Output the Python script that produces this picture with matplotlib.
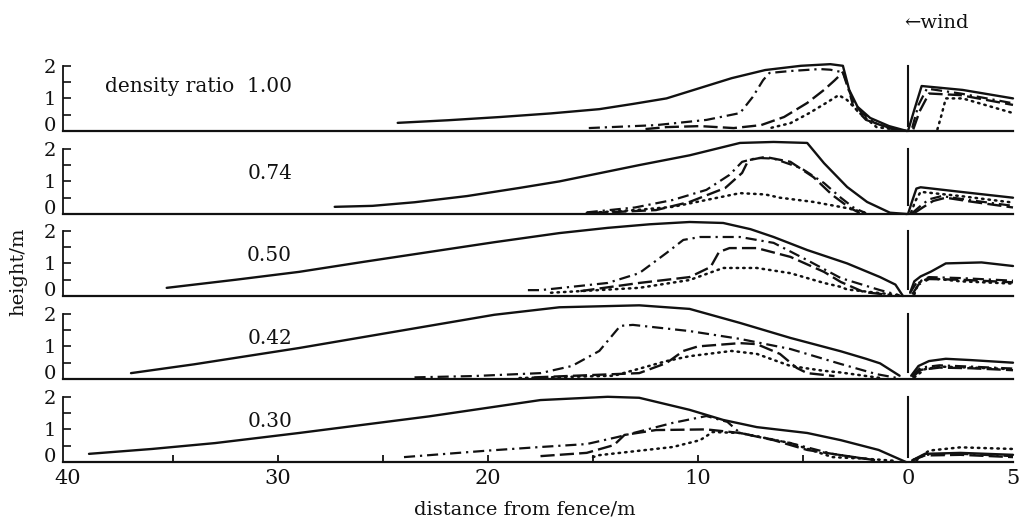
import matplotlib
matplotlib.use("Agg")
import matplotlib.pyplot as plt
from matplotlib.ticker import FixedLocator, FixedFormatter
import matplotlib.transforms as mtransforms

plt.rcParams['font.family'] = ['DejaVu Serif', 'DejaVu Sans']

# ---------------- data (metres) ----------------
density_ratios = ["1.00", "0.74", "0.50", "0.42", "0.30"]

# panel 1 : density ratio 1.00
r100_solid_x = [24.3, 21.9, 19.4, 17.0, 14.7, 13.1, 11.5, 10.0, 8.4, 6.8, 5.1, 3.7, 3.1, 2.8, 2.4, 1.8, 0.9, 0.05]
r100_solid_y = [0.25, 0.33, 0.43, 0.54, 0.67, 0.83, 1.0, 1.3, 1.62, 1.87, 2.0, 2.05, 2.0, 1.26, 0.74, 0.4, 0.15, 0.0]
r100_dashdot_x = [15.2, 12.0, 9.6, 8.0, 7.4, 6.9, 6.6, 5.6, 4.2, 3.7, 3.1, 2.9, 2.6, 2.0, 0.9, 0.05]
r100_dashdot_y = [0.09, 0.18, 0.34, 0.55, 1.04, 1.56, 1.78, 1.84, 1.9, 1.88, 1.8, 1.45, 0.74, 0.34, 0.1, 0.0]
r100_dashed_x = [12.5, 11.5, 9.9, 8.3, 7.0, 5.9, 4.8, 4.0, 3.5, 3.1, 2.9, 2.6, 2.2, 1.6, 0.8, 0.05]
r100_dashed_y = [0.06, 0.12, 0.15, 0.09, 0.18, 0.43, 0.86, 1.26, 1.55, 1.8, 1.4, 0.9, 0.55, 0.25, 0.07, 0.0]
r100_dotted_x = [6.5, 5.6, 4.7, 3.9, 3.3, 2.9, 2.3, 1.5, 0.05]
r100_dotted_y = [0.1, 0.24, 0.55, 0.86, 1.1, 0.95, 0.55, 0.12, 0.0]
r100_up_solid_x = [0.0, -0.3, -0.65, -2.6, -5.0]
r100_up_solid_y = [0.0, 0.65, 1.38, 1.26, 1.0]
r100_up_dashdot_x = [-0.2, -0.5, -0.9, -2.5, -5.0]
r100_up_dashdot_y = [0.1, 0.8, 1.3, 1.15, 0.85]
r100_up_dashed_x = [-0.25, -0.55, -1.0, -2.5, -5.0]
r100_up_dashed_y = [0.05, 0.6, 1.15, 1.1, 0.8]
r100_up_dotted_x = [-1.4, -1.6, -1.8, -2.6, -5.0]
r100_up_dotted_y = [0.05, 0.5, 1.0, 1.0, 0.55]

# panel 2 : density ratio 0.74
r074_solid_x = [27.3, 25.5, 23.5, 21.0, 18.5, 16.6, 12.8, 10.4, 8.0, 6.4, 4.8, 4.0, 2.9, 1.95, 0.86, 0.05]
r074_solid_y = [0.22, 0.25, 0.36, 0.55, 0.8, 1.0, 1.5, 1.8, 2.18, 2.21, 2.18, 1.56, 0.83, 0.37, 0.04, 0.0]
r074_dashdot_x = [15.3, 13.0, 11.2, 9.6, 8.5, 7.9, 7.2, 6.4, 5.1, 4.0, 3.2, 2.6, 2.0]
r074_dashdot_y = [0.05, 0.2, 0.43, 0.74, 1.2, 1.6, 1.72, 1.7, 1.41, 0.95, 0.5, 0.2, 0.02]
r074_dashed_x = [15.0, 12.0, 10.4, 8.7, 7.9, 7.6, 6.8, 5.6, 4.5, 3.6, 2.8, 2.3]
r074_dashed_y = [0.03, 0.12, 0.37, 0.8, 1.26, 1.65, 1.75, 1.6, 1.13, 0.58, 0.2, 0.03]
r074_dotted_x = [15.3, 13.0, 11.2, 9.6, 8.0, 6.8, 6.1, 4.5, 2.9, 1.9]
r074_dotted_y = [0.03, 0.12, 0.22, 0.43, 0.64, 0.6, 0.5, 0.37, 0.18, 0.02]
r074_up_solid_x = [0.0, -0.2, -0.4, -0.6, -2.5, -5.0]
r074_up_solid_y = [0.0, 0.4, 0.78, 0.82, 0.68, 0.5]
r074_up_dashdot_x = [-0.2, -0.6, -1.0, -1.6, -3.0, -5.0]
r074_up_dashdot_y = [0.03, 0.25, 0.45, 0.55, 0.42, 0.25]
r074_up_dashed_x = [-0.3, -0.7, -1.2, -1.8, -3.0, -5.0]
r074_up_dashed_y = [0.03, 0.2, 0.4, 0.5, 0.38, 0.2]
r074_up_dotted_x = [-0.15, -0.35, -0.6, -2.5, -5.0]
r074_up_dotted_y = [0.05, 0.4, 0.68, 0.55, 0.35]

# panel 3 : density ratio 0.50
r050_solid_x = [35.3, 32.0, 29.0, 25.9, 22.8, 19.7, 16.6, 14.3, 12.3, 10.4, 8.8, 7.5, 6.4, 4.8, 2.9, 1.33, 0.6, 0.24]
r050_solid_y = [0.25, 0.5, 0.74, 1.05, 1.35, 1.65, 1.93, 2.09, 2.2, 2.27, 2.24, 2.05, 1.81, 1.41, 1.0, 0.58, 0.35, 0.0]
r050_dashdot_x = [18.1, 17.5, 14.3, 12.8, 11.5, 10.7, 9.9, 8.0, 6.4, 4.8, 3.2, 1.33, 0.4]
r050_dashdot_y = [0.18, 0.18, 0.4, 0.7, 1.32, 1.72, 1.81, 1.81, 1.63, 1.1, 0.55, 0.18, 0.02]
r050_dashed_x = [15.6, 12.8, 10.4, 9.4, 9.0, 8.5, 7.2, 5.6, 4.0, 3.2, 2.1, 0.86]
r050_dashed_y = [0.15, 0.4, 0.58, 0.89, 1.35, 1.47, 1.47, 1.2, 0.74, 0.43, 0.12, 0.03]
r050_dotted_x = [17.0, 12.8, 10.4, 8.8, 7.2, 5.6, 4.0, 3.2, 2.9, 0.5]
r050_dotted_y = [0.1, 0.25, 0.49, 0.86, 0.86, 0.7, 0.4, 0.28, 0.2, 0.03]
r050_up_solid_x = [-0.1, -0.3, -0.6, -1.1, -1.8, -3.5, -5.0]
r050_up_solid_y = [0.1, 0.45, 0.6, 0.75, 1.0, 1.03, 0.92]
r050_up_dashdot_x = [-0.1, -0.4, -1.0, -2.5, -5.0]
r050_up_dashdot_y = [0.1, 0.4, 0.58, 0.55, 0.47]
r050_up_dashed_x = [-0.2, -0.5, -1.0, -2.5, -5.0]
r050_up_dashed_y = [0.05, 0.35, 0.52, 0.5, 0.42]
r050_up_dotted_x = [-0.3, -0.5, -1.0, -2.5, -5.0]
r050_up_dotted_y = [0.05, 0.4, 0.55, 0.45, 0.38]

# panel 4 : density ratio 0.42
r042_solid_x = [37.0, 34.0, 29.0, 22.8, 19.7, 16.6, 12.8, 10.4, 8.0, 5.6, 3.2, 2.0, 1.33, 0.4]
r042_solid_y = [0.18, 0.45, 0.95, 1.63, 1.97, 2.2, 2.26, 2.15, 1.72, 1.26, 0.85, 0.62, 0.48, 0.1]
r042_dashdot_x = [23.5, 20.7, 17.5, 16.0, 14.7, 13.7, 13.1, 10.4, 8.0, 5.6, 3.2, 1.5, 0.5]
r042_dashdot_y = [0.05, 0.09, 0.18, 0.4, 0.86, 1.63, 1.66, 1.47, 1.23, 0.92, 0.46, 0.15, 0.03]
r042_dashed_x = [17.8, 12.8, 11.5, 10.7, 10.0, 8.0, 7.2, 6.1, 5.3, 4.8, 3.5]
r042_dashed_y = [0.05, 0.18, 0.49, 0.86, 1.0, 1.1, 1.07, 0.77, 0.34, 0.18, 0.09]
r042_dotted_x = [18.5, 14.0, 11.5, 10.4, 8.4, 7.2, 5.6, 4.0, 3.2, 1.3]
r042_dotted_y = [0.03, 0.1, 0.55, 0.7, 0.86, 0.77, 0.4, 0.25, 0.2, 0.03]
r042_up_solid_x = [-0.15, -0.5, -1.0, -1.8, -3.0, -5.0]
r042_up_solid_y = [0.1, 0.4, 0.55, 0.62, 0.58, 0.5]
r042_up_dashdot_x = [-0.2, -0.6, -1.5, -3.0, -5.0]
r042_up_dashdot_y = [0.1, 0.35, 0.42, 0.38, 0.32]
r042_up_dashed_x = [-0.2, -0.6, -1.5, -3.0, -5.0]
r042_up_dashed_y = [0.05, 0.28, 0.35, 0.33, 0.27]
r042_up_dotted_x = [-0.3, -0.8, -1.5, -3.0, -5.0]
r042_up_dotted_y = [0.05, 0.3, 0.38, 0.35, 0.3]

# panel 5 : density ratio 0.30
r030_solid_x = [39.0, 36.0, 33.0, 30.8, 29.0, 22.8, 17.5, 14.3, 12.8, 10.4, 8.8, 7.2, 4.8, 3.2, 1.4, 0.1]
r030_solid_y = [0.25, 0.4, 0.58, 0.75, 0.89, 1.4, 1.9, 2.0, 1.97, 1.6, 1.29, 1.07, 0.89, 0.67, 0.37, 0.0]
r030_dashdot_x = [24.0, 20.0, 17.5, 15.3, 13.8, 11.2, 9.6, 8.6, 8.0, 5.6, 3.6, 1.5]
r030_dashdot_y = [0.15, 0.35, 0.46, 0.55, 0.77, 1.2, 1.41, 1.23, 0.89, 0.58, 0.25, 0.05]
r030_dashed_x = [17.5, 15.3, 14.0, 13.5, 12.0, 9.6, 8.0, 6.4, 4.8, 3.2, 1.5]
r030_dashed_y = [0.18, 0.28, 0.52, 0.83, 0.98, 1.0, 0.89, 0.67, 0.37, 0.21, 0.05]
r030_dotted_x = [15.0, 14.7, 11.2, 9.9, 9.3, 8.0, 5.6, 3.6, 2.0, 0.5]
r030_dotted_y = [0.15, 0.21, 0.46, 0.67, 0.92, 0.89, 0.58, 0.15, 0.1, 0.03]
r030_up_solid_x = [-0.2, -0.8, -2.5, -5.0]
r030_up_solid_y = [0.05, 0.25, 0.28, 0.22]
r030_up_dashdot_x = [-0.2, -0.8, -2.5, -5.0]
r030_up_dashdot_y = [0.05, 0.22, 0.25, 0.18]
r030_up_dashed_x = [-0.2, -0.8, -2.5, -5.0]
r030_up_dashed_y = [0.05, 0.2, 0.22, 0.15]
r030_up_dotted_x = [-0.4, -1.0, -2.5, -5.0]
r030_up_dotted_y = [0.05, 0.35, 0.45, 0.4]

fence_bottom = [0.15, 0.28, 0.2, 0.2, 0.15]
fence_top = 2.0

x_tick_marks = [35, 30, 25, 20, 15, 10, 5]
x_label_pos = [40, 30, 20, 10, 0, -5]
x_labels = ["40", "30", "20", "10", "0", "5"]

# ---------------- figure ----------------
W, H = 1022, 526
fig = plt.figure(figsize=(W / 100, H / 100), dpi=100)

baselines_px = [131, 214, 296, 379, 462]
left_px, right_px = 63, 1013
px_per_m_y = 32.6
ax_h_px = 80

panels = [
    dict(s=(r100_solid_x, r100_solid_y), dd=(r100_dashdot_x, r100_dashdot_y),
         da=(r100_dashed_x, r100_dashed_y), do=(r100_dotted_x, r100_dotted_y),
         us=(r100_up_solid_x, r100_up_solid_y), udd=(r100_up_dashdot_x, r100_up_dashdot_y),
         uda=(r100_up_dashed_x, r100_up_dashed_y), udo=(r100_up_dotted_x, r100_up_dotted_y)),
    dict(s=(r074_solid_x, r074_solid_y), dd=(r074_dashdot_x, r074_dashdot_y),
         da=(r074_dashed_x, r074_dashed_y), do=(r074_dotted_x, r074_dotted_y),
         us=(r074_up_solid_x, r074_up_solid_y), udd=(r074_up_dashdot_x, r074_up_dashdot_y),
         uda=(r074_up_dashed_x, r074_up_dashed_y), udo=(r074_up_dotted_x, r074_up_dotted_y)),
    dict(s=(r050_solid_x, r050_solid_y), dd=(r050_dashdot_x, r050_dashdot_y),
         da=(r050_dashed_x, r050_dashed_y), do=(r050_dotted_x, r050_dotted_y),
         us=(r050_up_solid_x, r050_up_solid_y), udd=(r050_up_dashdot_x, r050_up_dashdot_y),
         uda=(r050_up_dashed_x, r050_up_dashed_y), udo=(r050_up_dotted_x, r050_up_dotted_y)),
    dict(s=(r042_solid_x, r042_solid_y), dd=(r042_dashdot_x, r042_dashdot_y),
         da=(r042_dashed_x, r042_dashed_y), do=(r042_dotted_x, r042_dotted_y),
         us=(r042_up_solid_x, r042_up_solid_y), udd=(r042_up_dashdot_x, r042_up_dashdot_y),
         uda=(r042_up_dashed_x, r042_up_dashed_y), udo=(r042_up_dotted_x, r042_up_dotted_y)),
    dict(s=(r030_solid_x, r030_solid_y), dd=(r030_dashdot_x, r030_dashdot_y),
         da=(r030_dashed_x, r030_dashed_y), do=(r030_dotted_x, r030_dotted_y),
         us=(r030_up_solid_x, r030_up_solid_y), udd=(r030_up_dashdot_x, r030_up_dashdot_y),
         uda=(r030_up_dashed_x, r030_up_dashed_y), udo=(r030_up_dotted_x, r030_up_dotted_y)),
]

ink = "#111111"
styles = {
    's': dict(ls='-', lw=1.7),
    'us': dict(ls='-', lw=1.7),
    'dd': dict(ls=(0, (5, 2.2, 1, 2.2)), lw=1.6),
    'udd': dict(ls=(0, (5, 2.2, 1, 2.2)), lw=1.6),
    'da': dict(ls=(0, (6, 2.2)), lw=1.7),
    'uda': dict(ls=(0, (6, 2.2)), lw=1.7),
    'do': dict(ls=(0, (0.6, 2.0)), lw=1.8, dash_capstyle='round'),
    'udo': dict(ls=(0, (0.6, 2.0)), lw=1.8, dash_capstyle='round'),
}

xlim = (40.0 + (68 - left_px) / 21.0, -5.0)
ylim_top = ax_h_px / px_per_m_y

axes = []
for i, (pdata, b) in enumerate(zip(panels, baselines_px)):
    rect = [left_px / W, (H - b) / H, (right_px - left_px) / W, ax_h_px / H]
    ax = fig.add_axes(rect)
    ax.patch.set_alpha(0)
    ax.set_xlim(*xlim)
    ax.set_ylim(0, ylim_top)
    for key, (xs, ys) in pdata.items():
        ax.plot(xs, ys, color=ink, clip_on=False, solid_capstyle='round',
                solid_joinstyle='round', **styles[key])
    # fence
    ax.plot([0, 0], [fence_bottom[i], fence_top], color=ink, lw=1.5)
    # spines
    ax.spines['top'].set_visible(False)
    ax.spines['right'].set_visible(False)
    ax.spines['left'].set_bounds(0, 2)
    ax.spines['left'].set_linewidth(1.3)
    ax.spines['bottom'].set_linewidth(1.6)
    ax.spines['left'].set_color(ink)
    ax.spines['bottom'].set_color(ink)
    ax.yaxis.set_major_locator(FixedLocator([0, 1, 2]))
    ax.yaxis.set_minor_locator(FixedLocator([0.5, 1.5]))
    ax.tick_params(axis='y', which='both', direction='in', length=6, width=1.2,
                   colors=ink, labelsize=14, pad=5)
    ax.set_yticklabels(["0", "1", "2"])
    for lab in ax.get_yticklabels():
        if lab.get_text() == "0":
            lab.set_verticalalignment('baseline')
    if i < 4:
        ax.set_xticks([])
    else:
        ax.xaxis.set_major_locator(FixedLocator(x_label_pos))
        ax.xaxis.set_major_formatter(FixedFormatter(x_labels))
        ax.tick_params(axis='x', which='major', length=0, labelsize=15, pad=5, colors=ink)
        # inward tick marks every 5 m, 7 px tall
        tick_tr = mtransforms.blended_transform_factory(ax.transData, ax.transAxes)
        ax.vlines(x_tick_marks, 0, 7 / ax_h_px, transform=tick_tr, colors=ink,
                  linewidth=1.3, clip_on=False)
    label = density_ratios[i]
    if i == 0:
        label = "density ratio  " + label
        ty = 1.35
    else:
        ty = 1.25
    ax.text(29.33, ty, label, ha='right', va='center', fontsize=14.5, color=ink)
    axes.append(ax)

fig.text(937 / W, 1 - 23 / H, "\u2190wind", ha='center', va='center', fontsize=14, color=ink)
fig.text(18 / W, 1 - 272 / H, "height/m", rotation=90, ha='center', va='center', fontsize=14, color=ink)
fig.text(525 / W, 1 - 510 / H, "distance from fence/m", ha='center', va='center', fontsize=14, color=ink)

fig.savefig("out.png", dpi=100)
